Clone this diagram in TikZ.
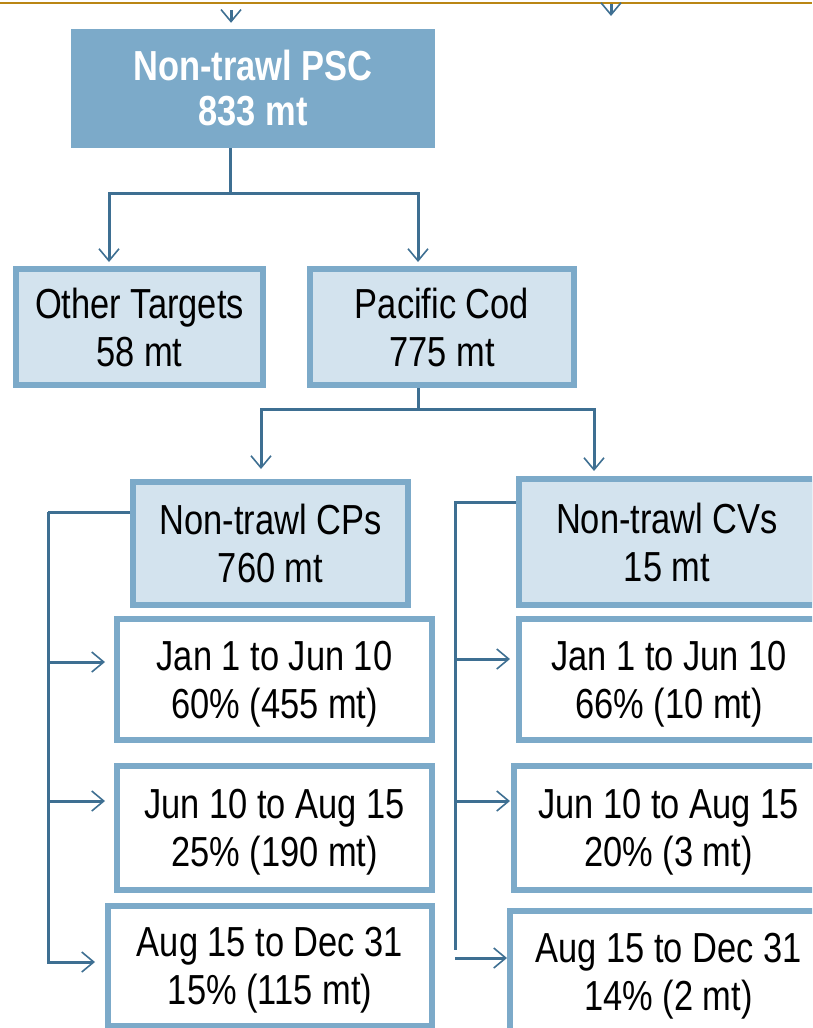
\documentclass[tikz,border=0pt]{standalone}
\usepackage{fontspec}
\setmainfont{Liberation Sans}[FakeStretch=0.82]
\usetikzlibrary{arrows.meta}

\definecolor{azulmedio}{RGB}{124,170,201}
\definecolor{azulclaro}{RGB}{211,227,238}
\definecolor{azulosc}{RGB}{62,111,146}
\definecolor{dorado}{RGB}{186,134,20}

\tikzset{
    caja/.style={draw=azulmedio, line width=6pt, fill=azulclaro, align=center,
        inner sep=0pt, text depth=0pt, font=\fontsize{42}{48}\selectfont},
    periodo/.style={caja, fill=white},
    cabeza/.style={fill=azulmedio, text=white, align=center, inner sep=0pt,
        font=\bfseries\fontsize{42}{45}\selectfont},
    linea/.style={draw=azulosc, line width=3pt},
    flecha/.style={linea, -{Straight Barb[length=12pt,width=20pt,line width=1.6pt]}},
}

\begin{document}
\begin{tikzpicture}[x=1pt,y=-1pt]
    % Marco
    \useasboundingbox (0,0) rectangle (812,1028);
    \clip (0,0) rectangle (812,1028);
    \draw[dorado, line width=2.5pt] (0,3) -- (812,3);

    % Total
    \node[cabeza, minimum width=364pt, minimum height=119pt] (psc) at (253,88.5) {Non-trawl PSC\\833 mt};

    % Objetivos
    \node[caja, minimum width=247pt, minimum height=116pt] (otros) at (139.5,327) {Other Targets\\58 mt};
    \node[caja, minimum width=264pt, minimum height=116pt] (cod) at (442,327) {Pacific Cod\\775 mt};

    % Sectores
    \node[caja, minimum width=275pt, minimum height=123pt] (cps) at (270.5,543.5) {Non-trawl CPs\\760 mt};
    \node[caja, minimum width=296pt, minimum height=126pt] (cvs) at (667,542) {Non-trawl CVs\\15 mt};

    % Temporadas CPs
    \node[periodo, minimum width=315pt, minimum height=121pt] (p1) at (274.5,679.5) {Jan 1 to Jun 10\\60\% (455 mt)};
    \node[periodo, minimum width=315pt, minimum height=124pt] (p2) at (274.5,828) {Jun 10 to Aug 15\\25\% (190 mt)};
    \node[periodo, minimum width=324pt, minimum height=120pt] (p3) at (270,966) {Aug 15 to Dec 31\\15\% (115 mt)};

    % Temporadas CVs
    \node[periodo, minimum width=300pt, minimum height=121pt] (q1) at (669,679.5) {Jan 1 to Jun 10\\66\% (10 mt)};
    \node[periodo, minimum width=309pt, minimum height=124pt] (q2) at (668.5,828) {Jun 10 to Aug 15\\20\% (3 mt)};
    \node[periodo, minimum width=317pt, minimum height=121pt] (q3) at (668.5,971.5) {Aug 15 to Dec 31\\14\% (2 mt)};

    % Entradas desde arriba
    \coordinate (entrada) at (231,10);
    \coordinate (entrada2) at (611,4);
    \draw[flecha] (entrada) -- ([xshift=-22pt,yshift=6pt]psc.north);
    \draw[flecha] (entrada2) -- ++(0,12);

    % Ramas del total
    \draw[linea] ([xshift=-23pt]psc.south) -- ++(0,45) coordinate (rama1);
    \draw[flecha] (rama1) -| ([xshift=-30.5pt,yshift=4pt]otros.north);
    \draw[flecha] (rama1) -| ([xshift=-24pt,yshift=4pt]cod.north);

    % Ramas de Pacific Cod
    \draw[linea] ([xshift=-24pt]cod.south) -- ++(0,21) coordinate (rama2);
    \draw[flecha] (rama2) -| ([xshift=-9.5pt,yshift=10pt]cps.north);
    \draw[flecha] (rama2) -| ([xshift=-73pt,yshift=5pt]cvs.north);

    % Corchete CPs
    \draw[linea] ([yshift=31.5pt]cps.west) -- ++(-82,0) coordinate (izq);
    \coordinate (t1) at ([xshift=-9pt,yshift=17.5pt]p1.west);
    \coordinate (t2) at ([xshift=-9pt,yshift=27pt]p2.west);
    \draw[flecha] (izq) |- ([xshift=-10pt,yshift=4pt]p3.west);
    \draw[flecha] (izq |- t1) -- (t1);
    \draw[flecha] (izq |- t2) -- (t2);

    % Corchete CVs
    \draw[linea] ([yshift=40pt]cvs.west) -- ++(-61,0) coordinate (der) -- ++(0,448);
    \coordinate (u1) at ([xshift=-6pt,yshift=20.5pt]q1.west);
    \coordinate (u2) at ([xshift=-1pt,yshift=27pt]q2.west);
    \coordinate (u3) at ([yshift=13.5pt]q3.west);
    \draw[flecha] (der |- u1) -- (u1);
    \draw[flecha] (der |- u2) -- (u2);
    \draw[flecha] (der |- u3) -- (u3);
\end{tikzpicture}
\end{document}
